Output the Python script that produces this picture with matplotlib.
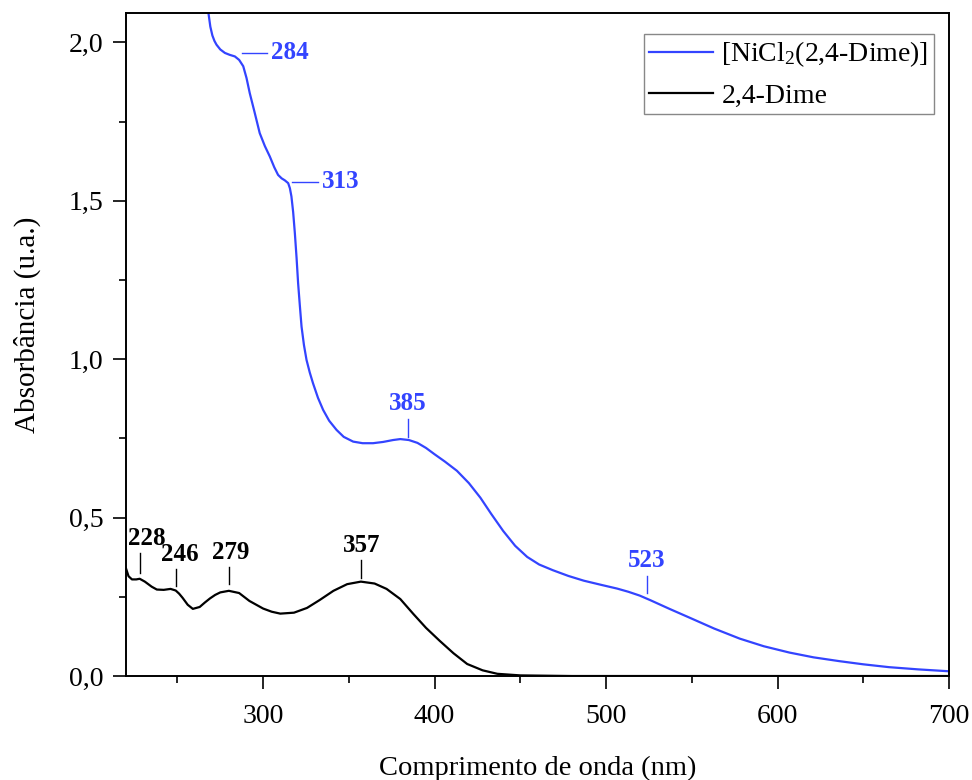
import matplotlib
matplotlib.use("Agg")
import matplotlib.pyplot as plt
from matplotlib.ticker import MultipleLocator, FuncFormatter

plt.rcParams['font.family'] = ['Liberation Serif', 'DejaVu Serif']
plt.rcParams['mathtext.fontset'] = 'custom'
plt.rcParams['mathtext.rm'] = 'Liberation Serif'
plt.rcParams['mathtext.default'] = 'regular'

BLUE = '#3344ff'

# [NiCl2(2,4-Dime)] spectrum
complex_wl = [267, 268.1, 269.2, 270.4, 271.6, 272.8, 275, 277.7, 280.5, 283.5, 286,
              288.4, 290.3, 292.2, 295, 298, 301, 303.9, 306.5, 308.7, 310.8, 312.6,
              314.6, 315.6, 316.5, 317.5, 318.5, 319.5, 320.4, 321.4, 322.4, 323.8,
              325.3, 327.2, 329.1, 332, 335, 338.5, 342.8, 347, 352.5, 358, 364.1,
              370, 375.8, 380, 385, 390, 395, 400, 406, 413, 420, 426.7, 433, 440,
              447, 454, 461, 469, 478, 487, 497, 506.5, 513, 519.6, 526, 537, 548.8,
              563, 578, 592, 607, 621, 636, 650, 665, 682, 700]
complex_abs = [2.15, 2.093, 2.05, 2.022, 2.005, 1.993, 1.978, 1.967, 1.961, 1.956,
               1.945, 1.925, 1.888, 1.84, 1.78, 1.714, 1.673, 1.64, 1.606, 1.582,
               1.571, 1.565, 1.556, 1.54, 1.514, 1.465, 1.398, 1.32, 1.24, 1.17,
               1.103, 1.045, 0.998, 0.958, 0.924, 0.878, 0.84, 0.806, 0.777, 0.755,
               0.740, 0.735, 0.735, 0.739, 0.745, 0.748, 0.745, 0.736, 0.72, 0.70,
               0.677, 0.648, 0.609, 0.563, 0.512, 0.458, 0.411, 0.376, 0.352, 0.334,
               0.316, 0.301, 0.288, 0.276, 0.266, 0.254, 0.239, 0.212, 0.184, 0.150,
               0.118, 0.094, 0.074, 0.059, 0.047, 0.037, 0.028, 0.021, 0.015]

# 2,4-Dime ligand spectrum
ligand_wl = [220, 221.5, 223.5, 226, 228, 231, 235, 238, 242, 246, 249, 251, 253,
             256, 259, 263, 266, 269, 272, 275, 280, 286, 292, 300, 305, 310, 318,
             325.6, 333, 341, 349, 357, 365, 372, 380, 387.6, 395, 403, 411, 419,
             428, 436.6, 450, 465, 480, 550, 700]
ligand_abs = [0.34, 0.315, 0.305, 0.305, 0.307, 0.298, 0.282, 0.273, 0.272, 0.275,
              0.27, 0.26, 0.247, 0.225, 0.212, 0.218, 0.232, 0.245, 0.256, 0.264,
              0.269, 0.262, 0.237, 0.213, 0.203, 0.197, 0.2, 0.215, 0.24, 0.269,
              0.29, 0.298, 0.292, 0.275, 0.243, 0.196, 0.152, 0.111, 0.072, 0.038,
              0.018, 0.007, 0.002, 0.001, 0.0, 0.0, 0.0]

# peak labels: (text, line x, y_low, y_high, text x) for vertical markers
complex_peaks = [('385', 384.3, 0.755, 0.812, 384.3), ('523', 523.6, 0.262, 0.316, 523.6)]
ligand_peaks = [('228', 228.1, 0.325, 0.389, 232.0), ('246', 249.0, 0.284, 0.338, 251.5),
                ('279', 280.0, 0.290, 0.344, 281.0), ('357', 357.0, 0.310, 0.366, 357.5)]
# shoulders marked with horizontal lines: (text, x0, x1, y)
complex_shoulders = [('284', 287.6, 302.2, 1.968), ('313', 316.7, 331.9, 1.560)]

fig = plt.figure(figsize=(9.72, 7.8), dpi=100)
ax = fig.add_axes([0.1296, 0.1333, 0.8467, 0.85])

ax.plot(complex_wl, complex_abs, color=BLUE, lw=1.6, label='[NiCl$_2$(2,4-Dime)]')
ax.plot(ligand_wl, ligand_abs, color='black', lw=1.6, label='2,4-Dime')

for txt, x, y0, y1, tx in complex_peaks:
    ax.plot([x, x], [y0, y1], color=BLUE, lw=1.0)
    ax.text(tx, y1 + 0.013, txt, color=BLUE, fontsize=18, fontweight='bold',
            ha='center', va='bottom')
for txt, x, y0, y1, tx in ligand_peaks:
    ax.plot([x, x], [y0, y1], color='black', lw=1.0)
    ax.text(tx, y1 + 0.01, txt, color='black', fontsize=18, fontweight='bold',
            ha='center', va='bottom')
for txt, x0, x1, y in complex_shoulders:
    ax.plot([x0, x1], [y, y], color=BLUE, lw=1.0)
    ax.text(x1 + 2.5, y, txt, color=BLUE, fontsize=18, fontweight='bold',
            ha='left', va='center')

ax.set_xlim(220, 700)
ax.set_ylim(0, 2.093)
ax.xaxis.set_major_locator(MultipleLocator(100))
ax.xaxis.set_minor_locator(MultipleLocator(50))
ax.yaxis.set_major_locator(MultipleLocator(0.5))
ax.yaxis.set_minor_locator(MultipleLocator(0.25))
ax.yaxis.set_major_formatter(FuncFormatter(lambda v, p: f'{v:.1f}'.replace('.', ',')))
ax.tick_params(which='major', direction='out', length=9.4, width=1.2, labelsize=20)
ax.tick_params(which='minor', direction='out', length=5, width=1.2)
ax.tick_params(axis='x', which='major', pad=11)
ax.tick_params(axis='y', which='major', pad=7)
for sp in ax.spines.values():
    sp.set_linewidth(1.4)

ax.set_xlabel('Comprimento de onda (nm)', fontsize=20.5)
ax.set_ylabel('Absorbância (u.a.)', fontsize=21)
ax.xaxis.set_label_coords(0.5, -0.12)
ax.yaxis.set_label_coords(-0.103, 0.53)

leg = ax.legend(loc='upper right', bbox_to_anchor=(0.9818, 0.9683), borderaxespad=0,
                fontsize=20, fancybox=False, edgecolor='#888888', framealpha=1,
                handlelength=2.3, borderpad=0.2, labelspacing=0.5,
                handletextpad=0.3)
leg.get_frame().set_linewidth(1.0)

fig.savefig('out.png', dpi=100)
